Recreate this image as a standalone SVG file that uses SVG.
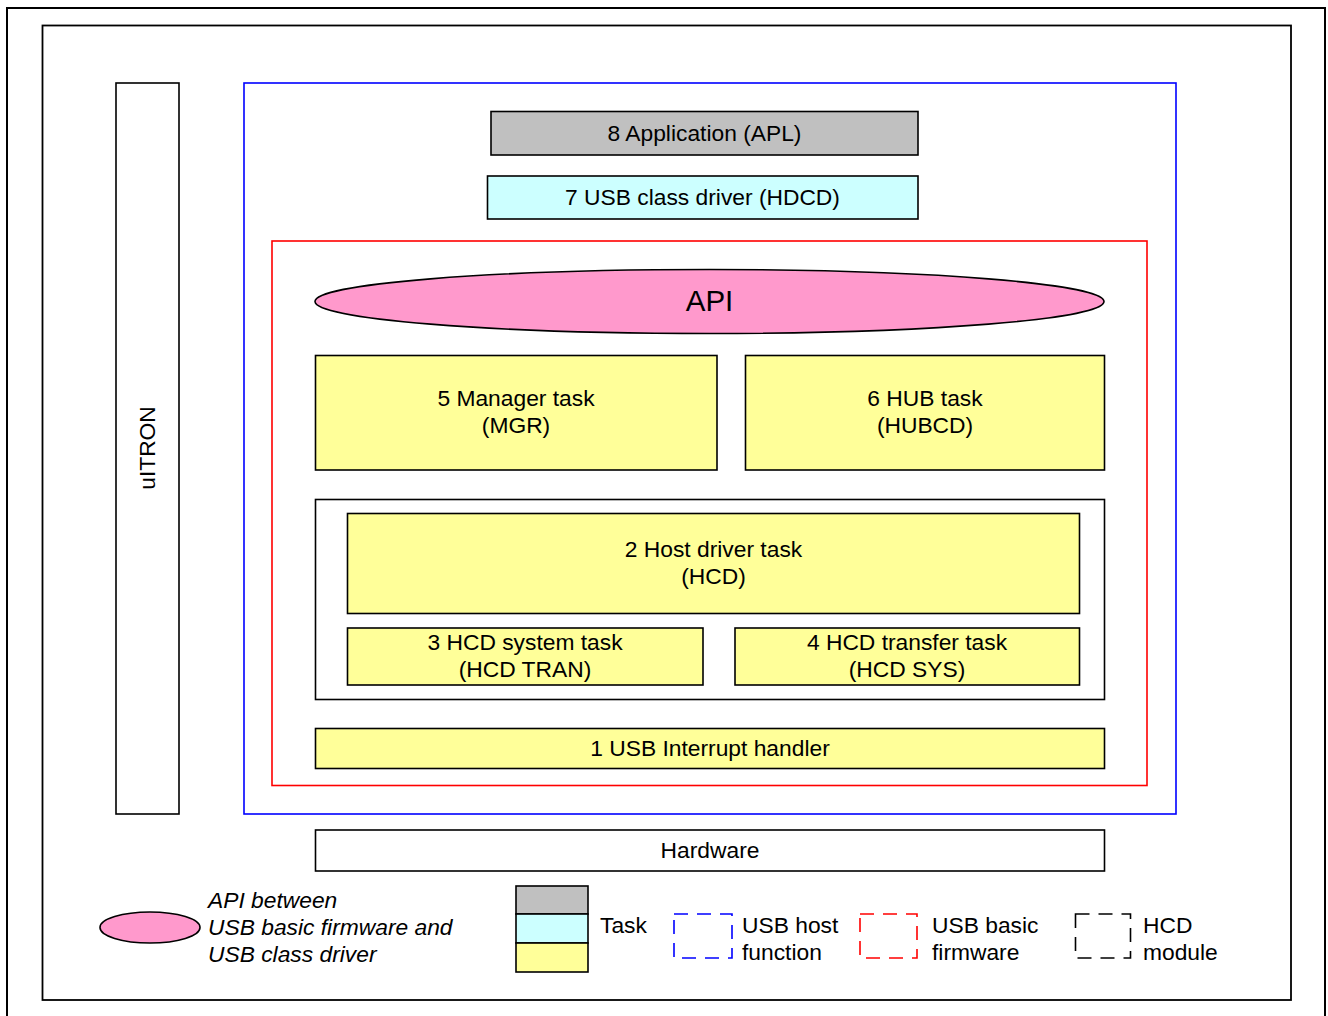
<svg xmlns="http://www.w3.org/2000/svg" width="1328" height="1016" viewBox="0 0 1328 1016">
<style>
text{font-family:"Liberation Sans",Arial,sans-serif;font-size:22.8px;fill:#000}
.c{text-anchor:middle}
.it{font-style:italic}
.box{stroke:#000;stroke-width:1.6}
.y{fill:#FFFF99}
.frame{fill:none}
.dash{fill:none;stroke-width:1.6;stroke-dasharray:14 9}
</style>
<rect width="1328" height="1016" fill="#fff"/>
<g id="outer-frame">
<rect x="7" y="8" width="1318" height="1020" fill="none" stroke="#000" stroke-width="2"/>
<rect x="42.5" y="25.5" width="1248.5" height="974.5" fill="none" stroke="#000" stroke-width="1.8"/>
</g>
<g id="uitron">
<rect class="box" x="116" y="83" width="63" height="731" fill="#fff"/>
<text class="c" transform="translate(155,448) rotate(-90)">uITRON</text>
</g>
<g id="usb-host-function">
<rect x="244" y="83" width="932" height="731" fill="none" stroke="#0000FF" stroke-width="1.6"/>
</g>
<g id="apl">
<rect class="box" x="491" y="111.5" width="427" height="43.5" fill="#C0C0C0"/>
<text class="c" x="704.5" y="141">8 Application (APL)</text>
</g>
<g id="hdcd">
<rect class="box" x="487.5" y="176" width="430.5" height="43" fill="#CCFFFF"/>
<text class="c" x="702.5" y="205">7 USB class driver (HDCD)</text>
</g>
<g id="usb-basic-firmware">
<rect x="272" y="241" width="875" height="544.5" fill="none" stroke="#FF0000" stroke-width="1.6"/>
</g>
<g id="api">
<ellipse class="box" cx="709.5" cy="301.5" rx="394.5" ry="32" fill="#FF99CC"/>
<text class="c" x="709.5" y="311" style="font-size:29.5px">API</text>
</g>
<g id="mgr">
<rect class="box y" x="315.5" y="355.5" width="401.5" height="114.5"/>
<text class="c" x="516" y="406">5 Manager task</text>
<text class="c" x="516" y="433">(MGR)</text>
</g>
<g id="hubcd">
<rect class="box y" x="745.5" y="355.5" width="359" height="114.5"/>
<text class="c" x="925" y="406">6 HUB task</text>
<text class="c" x="925" y="433">(HUBCD)</text>
</g>
<g id="hcd-module">
<rect x="315.5" y="499.5" width="789" height="200" fill="none" stroke="#000" stroke-width="1.6"/>
</g>
<g id="hcd">
<rect class="box y" x="347.5" y="513.5" width="732" height="100"/>
<text class="c" x="713.5" y="557">2 Host driver task</text>
<text class="c" x="713.5" y="584">(HCD)</text>
</g>
<g id="hcd-tran">
<rect class="box y" x="347.5" y="628" width="355.5" height="57"/>
<text class="c" x="525" y="650">3 HCD system task</text>
<text class="c" x="525" y="677">(HCD TRAN)</text>
</g>
<g id="hcd-sys">
<rect class="box y" x="735" y="628" width="344.5" height="57"/>
<text class="c" x="907" y="650">4 HCD transfer task</text>
<text class="c" x="907" y="677">(HCD SYS)</text>
</g>
<g id="interrupt">
<rect class="box y" x="315.5" y="728.5" width="789" height="40"/>
<text class="c" x="710" y="756">1 USB Interrupt handler</text>
</g>
<g id="hardware">
<rect class="box" x="315.5" y="830" width="789" height="41" fill="#fff"/>
<text class="c" x="710" y="858">Hardware</text>
</g>
<g id="legend-api">
<ellipse class="box" cx="150" cy="927.5" rx="50" ry="15.5" fill="#FF99CC"/>
<text class="it" x="208" y="908">API between</text>
<text class="it" x="208" y="935">USB basic firmware and</text>
<text class="it" x="208" y="962">USB class driver</text>
</g>
<g id="legend-task">
<rect class="box" x="516" y="886" width="72" height="28" fill="#C0C0C0"/>
<rect class="box" x="516" y="914" width="72" height="29" fill="#CCFFFF"/>
<rect class="box" x="516" y="943" width="72" height="29" fill="#FFFF99"/>
<text x="600" y="933">Task</text>
</g>
<g id="legend-host">
<rect class="dash" x="674" y="914" width="58" height="44" stroke="#0000FF"/>
<text x="742" y="933">USB host</text>
<text x="742" y="960">function</text>
</g>
<g id="legend-firmware">
<rect class="dash" x="860" y="914" width="57" height="44" stroke="#FF0000"/>
<text x="932" y="933">USB basic</text>
<text x="932" y="960">firmware</text>
</g>
<g id="legend-hcd">
<rect class="dash" x="1075.5" y="914" width="55" height="44" stroke="#000"/>
<text x="1143" y="933">HCD</text>
<text x="1143" y="960">module</text>
</g>
<g id="connectors"></g>
</svg>
